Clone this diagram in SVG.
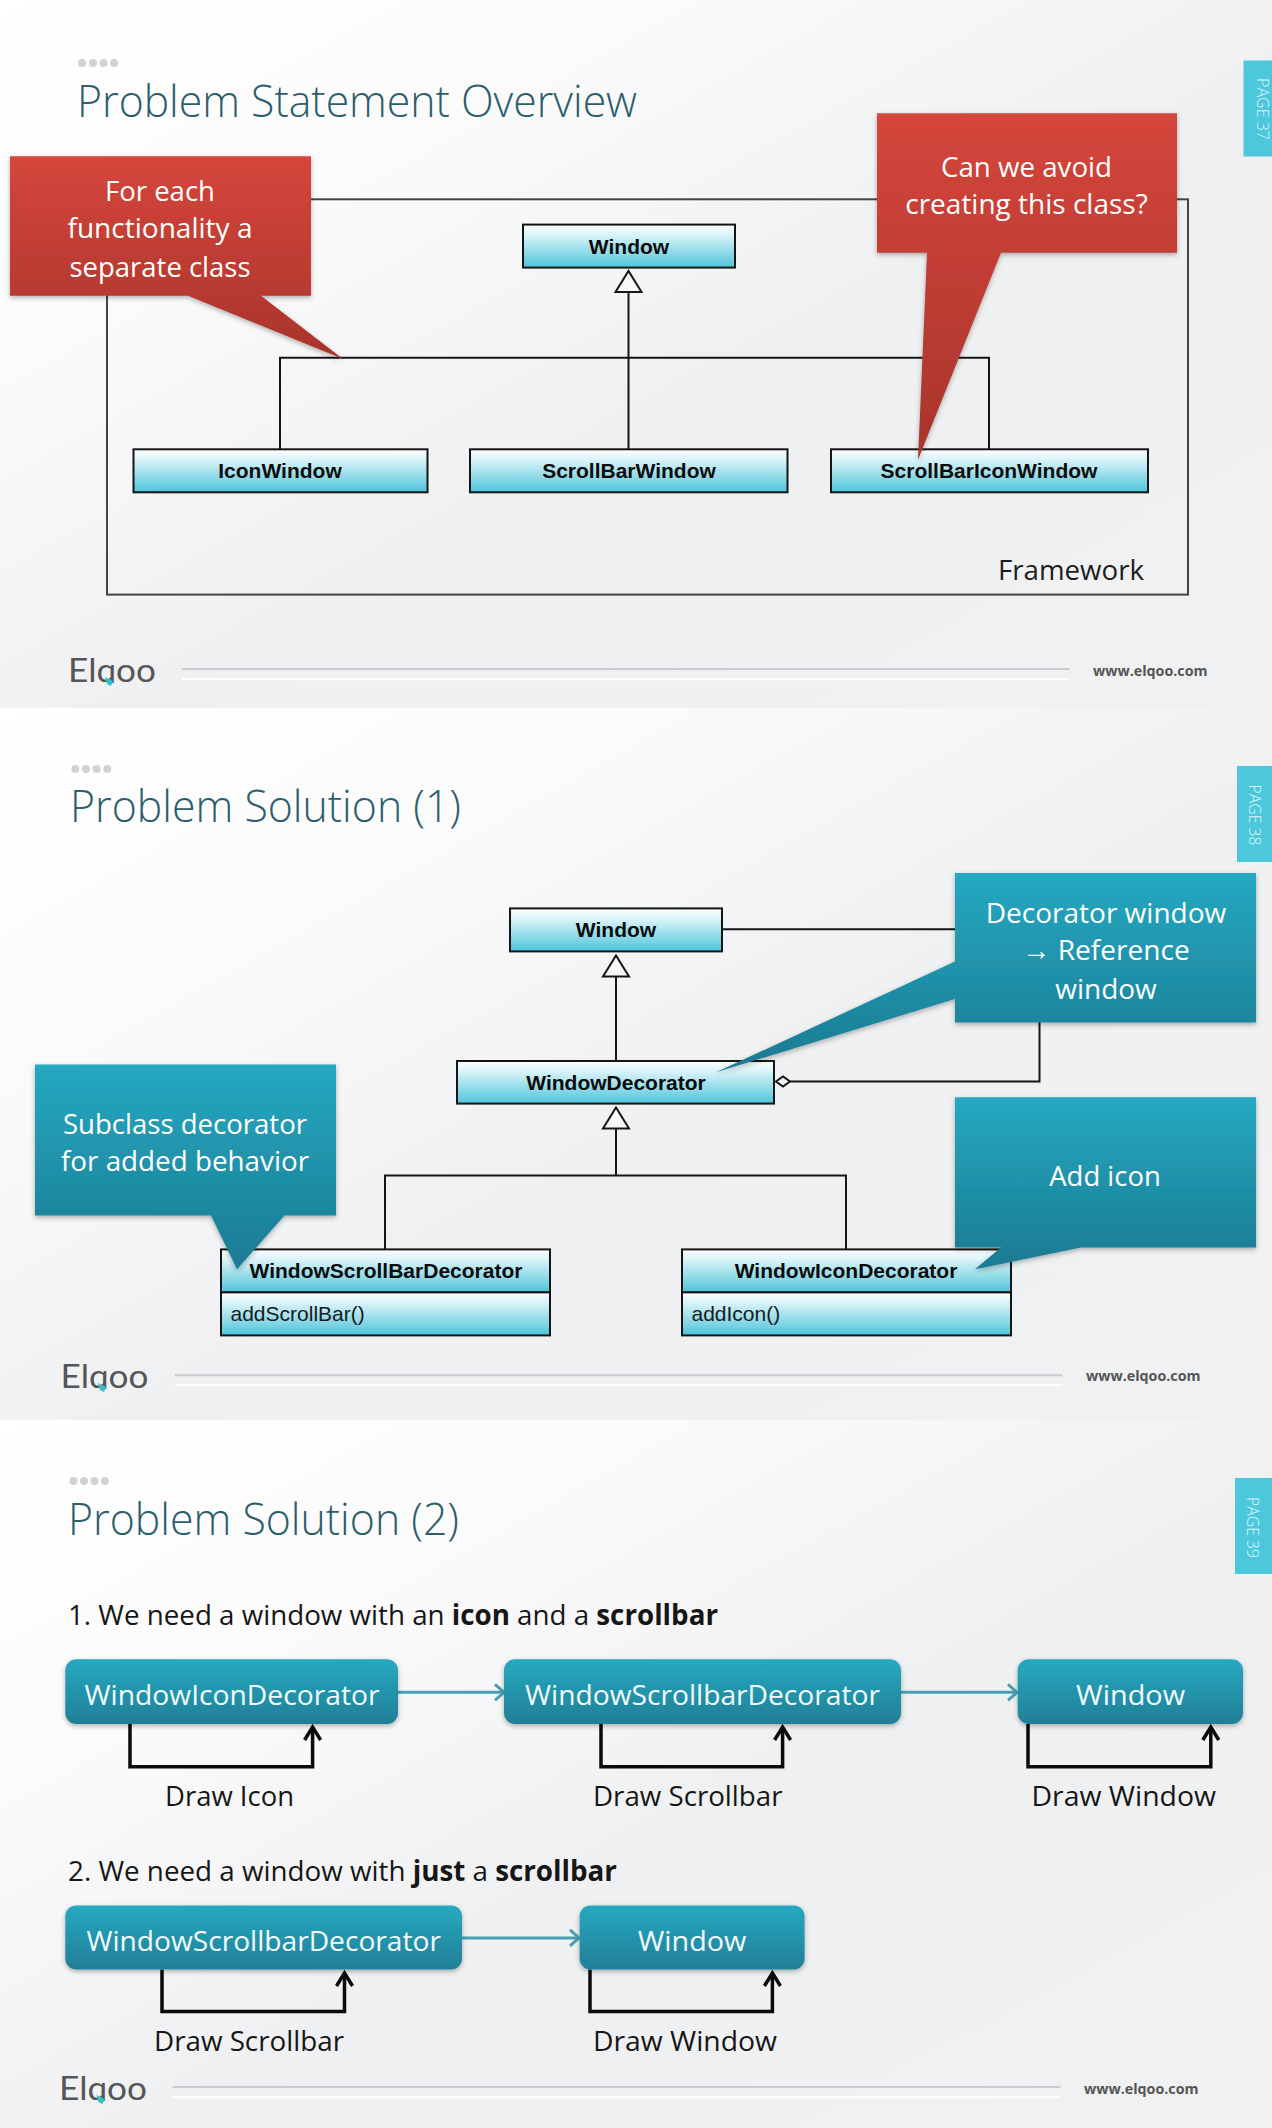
<svg xmlns="http://www.w3.org/2000/svg" width="1272" height="2128" viewBox="0 0 1272 2128">
<style>
text{font-family:"Open Sans","Noto Sans","Liberation Sans",sans-serif}
.title{font-size:44px;font-weight:300;fill:#2c5e6b}
.dot{fill:#d0d3d5}
.tab{fill:#4cc7dc}
.page{font-size:17px;font-weight:300;fill:#dff6fa}
.logo{font-family:Lato,"Open Sans",sans-serif;font-size:33px;fill:#565656}
.rule{stroke:#c9cbce;stroke-width:2;fill:none}
.rule2{stroke:#fff;stroke-width:2;fill:none}
.www{font-size:15px;font-weight:700;fill:#555}
.tick{fill:#35c0c8}
.cls{fill:url(#cg);stroke:#151515;stroke-width:2}
.cn{font-family:"Liberation Sans",Arial,sans-serif;font-size:21px;font-weight:700;fill:#0c0c0c;text-anchor:middle}
.cm{font-family:"Liberation Sans",Arial,sans-serif;font-size:21px;fill:#1a1a1a}
.wire{stroke:#151515;stroke-width:2;fill:none}
.frame{stroke:#444;stroke-width:2;fill:none}
.ct{font-size:28px;fill:#fff;text-anchor:middle}
.red{fill:url(#rg);filter:url(#sh)}
.teal{fill:url(#tg);filter:url(#sh)}
.pill{fill:url(#pg);filter:url(#sh)}
.pt{font-size:28px;fill:#f2fbfc;text-anchor:middle}
.blk{font-size:28px;fill:#161616}
.blk tspan{font-weight:700}
.flow{stroke:#4aa0b2;stroke-width:3;fill:none;marker-end:url(#ta)}
.loop{stroke:#0a0a0a;stroke-width:3.5;fill:none;marker-end:url(#ba)}
.gen{marker-end:url(#tri)}
.agg{marker-end:url(#dia)}
</style>
<defs>
<linearGradient id="bg" x1="0" y1="0" x2="1" y2="1"><stop offset="0" stop-color="#fff"/><stop offset=".25" stop-color="#fbfbfc"/><stop offset=".55" stop-color="#eff0f2"/><stop offset="1" stop-color="#eff1f3"/></linearGradient>
<linearGradient id="cg" x1="0" y1="0" x2="0" y2="1"><stop offset="0" stop-color="#fff"/><stop offset=".25" stop-color="#d8f3f8"/><stop offset="1" stop-color="#4ec4da"/></linearGradient>
<linearGradient id="rg" x1="0" y1="0" x2="0" y2="1"><stop offset="0" stop-color="#d5463c"/><stop offset="1" stop-color="#a8342b"/></linearGradient>
<linearGradient id="tg" x1="0" y1="0" x2="0" y2="1"><stop offset="0" stop-color="#25a9c1"/><stop offset="1" stop-color="#1a7a92"/></linearGradient>
<linearGradient id="pg" x1="0" y1="0" x2="0" y2="1"><stop offset="0" stop-color="#27a9c1"/><stop offset="1" stop-color="#1f7f97"/></linearGradient>
<filter id="sh" x="-5%" y="-5%" width="110%" height="115%"><feDropShadow dx="0" dy="2" stdDeviation="2.5" flood-color="#000" flood-opacity=".3"/></filter>
<marker id="tri" markerUnits="userSpaceOnUse" markerWidth="24" markerHeight="30" refX="1" refY="15" orient="auto" viewBox="0 0 24 30"><polygon points="1,2 1,28 22,15" fill="#f7f8f9" stroke="#151515" stroke-width="2"/></marker>
<marker id="dia" markerUnits="userSpaceOnUse" markerWidth="18" markerHeight="14" refX="1" refY="7" orient="auto" viewBox="0 0 18 14"><polygon points="1,7 8,2 15,7 8,12" fill="#f7f8f9" stroke="#151515" stroke-width="2"/></marker>
<marker id="ta" markerUnits="userSpaceOnUse" markerWidth="18" markerHeight="20" refX="14" refY="10" orient="auto" viewBox="0 0 18 20"><path d="M5,2 L14,10 L5,18" fill="none" stroke="#4aa0b2" stroke-width="3"/></marker>
<marker id="ba" markerUnits="userSpaceOnUse" markerWidth="22" markerHeight="22" refX="17" refY="11" orient="auto" viewBox="0 0 22 22"><path d="M4,3 L17,11 L4,19" fill="none" stroke="#0a0a0a" stroke-width="3.5"/></marker>
<clipPath id="lc1"><rect x="60" y="640" width="110" height="43"/></clipPath>
<clipPath id="lc2"><rect x="52" y="1345" width="110" height="44"/></clipPath>
<clipPath id="lc3"><rect x="50" y="2056" width="110" height="45"/></clipPath>
</defs>

<g id="backgrounds">
<rect x="0" y="0" width="1272" height="708" fill="url(#bg)"/>
<rect x="0" y="708" width="1272" height="712" fill="url(#bg)"/>
<rect x="0" y="1420" width="1272" height="708" fill="url(#bg)"/>
</g>

<g id="slide-chrome">
<g class="dot"><circle cx="82" cy="63" r="4"/><circle cx="93" cy="63" r="4"/><circle cx="103.500" cy="63" r="4"/><circle cx="114" cy="63" r="4"/>
<circle cx="75.300" cy="769" r="4"/><circle cx="86" cy="769" r="4"/><circle cx="96.700" cy="769" r="4"/><circle cx="107.300" cy="769" r="4"/>
<circle cx="73.500" cy="1481" r="4"/><circle cx="84" cy="1481" r="4"/><circle cx="94.500" cy="1481" r="4"/><circle cx="105" cy="1481" r="4"/></g>
<text class="title" x="77" y="116.500" textLength="560" lengthAdjust="spacingAndGlyphs">Problem Statement Overview</text>
<text class="title" x="70" y="822" textLength="391" lengthAdjust="spacingAndGlyphs">Problem Solution (1)</text>
<text class="title" x="68" y="1535" textLength="391" lengthAdjust="spacingAndGlyphs">Problem Solution (2)</text>
<rect class="tab" x="1243.500" y="60.500" width="28.500" height="96"/>
<rect class="tab" x="1237" y="766" width="35" height="96"/>
<rect class="tab" x="1235" y="1478" width="37" height="96"/>
<text class="page" transform="translate(1256.500 78) rotate(90)" textLength="62" lengthAdjust="spacingAndGlyphs">PAGE 37</text>
<text class="page" transform="translate(1249 784.500) rotate(90)" textLength="61" lengthAdjust="spacingAndGlyphs">PAGE 38</text>
<text class="page" transform="translate(1247 1497) rotate(90)" textLength="61" lengthAdjust="spacingAndGlyphs">PAGE 39</text>
<text class="logo" x="68" y="681.500" textLength="88" lengthAdjust="spacingAndGlyphs" clip-path="url(#lc1)">Elqoo</text>
<text class="logo" x="60.500" y="1388" textLength="88" lengthAdjust="spacingAndGlyphs" clip-path="url(#lc2)">Elqoo</text>
<text class="logo" x="59" y="2099.500" textLength="88" lengthAdjust="spacingAndGlyphs" clip-path="url(#lc3)">Elqoo</text>
<path class="tick" d="M105,677 L113,681 L111,686 L107,684 Z"/>
<path class="tick" d="M98,1383 L106,1387 L104,1392 L100,1390 Z"/>
<path class="tick" d="M96.500,2095 L104.500,2099 L102.500,2104 L98.500,2102 Z"/>
<path class="rule" d="M182,669H1069.500M175,1375.300H1062.500M172.500,2087H1060.500"/>
<path class="rule2" d="M182,679.300H1069.500M175,1385H1062.500M172.500,2097.300H1060.500"/>
<text class="www" x="1093" y="675.500" textLength="114.500" lengthAdjust="spacingAndGlyphs">www.elqoo.com</text>
<text class="www" x="1086" y="1381" textLength="114.500" lengthAdjust="spacingAndGlyphs">www.elqoo.com</text>
<text class="www" x="1084" y="2093.500" textLength="114.500" lengthAdjust="spacingAndGlyphs">www.elqoo.com</text>
</g>

<g id="framework">
<rect class="frame" x="107" y="199.300" width="1081" height="395.300"/>
<text x="998" y="579.500" font-size="28" fill="#1d1d1d" textLength="146" lengthAdjust="spacingAndGlyphs">Framework</text>
</g>

<g id="connectors">
<path class="wire gen" d="M628.500,449 V292"/>
<path class="wire" d="M280,449 V357.800 H989 V449"/>
<path class="wire gen" d="M616,1061 V976.500"/>
<path class="wire gen" d="M616,1176 V1128.500"/>
<path class="wire" d="M385,1249 V1175.600 H846 V1249"/>
<path class="wire" d="M722,929.200 H955"/>
<path class="wire agg" d="M1039.500,1022 V1081.500 H790"/>
<path class="flow" d="M398,1692.300 H504"/>
<path class="flow" d="M901,1692.300 H1017"/>
<path class="flow" d="M462,1937.900 H579"/>
<path class="loop" d="M130,1724 V1766.800 H312.600 V1727"/>
<path class="loop" d="M601,1724 V1766.800 H782.600 V1727"/>
<path class="loop" d="M1028,1724 V1766.800 H1210.800 V1727"/>
<path class="loop" d="M162,1969.500 V2011.500 H344.500 V1973"/>
<path class="loop" d="M590,1969.500 V2011.500 H772.400 V1973"/>
</g>

<g id="n-window-1"><rect class="cls" x="523" y="224.600" width="212" height="43"/><text class="cn" x="629" y="253.500">Window</text></g>
<g id="n-iconwindow"><rect class="cls" x="133.500" y="449.300" width="294" height="43"/><text class="cn" x="280" y="477.800">IconWindow</text></g>
<g id="n-scrollbarwindow"><rect class="cls" x="470" y="449.300" width="317.500" height="43"/><text class="cn" x="629" y="477.800">ScrollBarWindow</text></g>
<g id="n-scrollbariconwindow"><rect class="cls" x="831" y="449.300" width="317" height="43"/><text class="cn" x="989" y="477.800">ScrollBarIconWindow</text></g>

<g id="n-window-2"><rect class="cls" x="510" y="908.400" width="212" height="43"/><text class="cn" x="616" y="937.400">Window</text></g>
<g id="n-windowdecorator"><rect class="cls" x="457" y="1061" width="317" height="42.600"/><text class="cn" x="616" y="1089.500">WindowDecorator</text></g>
<g id="n-windowscrollbardecorator"><rect class="cls" x="221" y="1249.400" width="329" height="43"/><rect class="cls" x="221" y="1292.400" width="329" height="43"/><text class="cn" x="386" y="1278.400">WindowScrollBarDecorator</text><text class="cm" x="230.500" y="1321.400">addScrollBar()</text></g>
<g id="n-windowicondecorator"><rect class="cls" x="682" y="1249.400" width="329" height="43"/><rect class="cls" x="682" y="1292.400" width="329" height="43"/><text class="cn" x="846" y="1278.400">WindowIconDecorator</text><text class="cm" x="691.500" y="1321.400">addIcon()</text></g>

<g id="c-each"><path class="red" d="M10,156.200 H311 V295.700 H261 L343,359 L188,295.700 H10 Z"/>
<text class="ct" x="160" y="200.500" textLength="110" lengthAdjust="spacingAndGlyphs">For each</text>
<text class="ct" x="160" y="237.800" textLength="185" lengthAdjust="spacingAndGlyphs">functionality a</text>
<text class="ct" x="160" y="276.500" textLength="181" lengthAdjust="spacingAndGlyphs">separate class</text></g>
<g id="c-avoid"><path class="red" d="M877,113.200 H1177 V252.700 H1001 L918,459.700 L927,252.700 H877 Z"/>
<text class="ct" x="1026.500" y="176.500" textLength="171" lengthAdjust="spacingAndGlyphs">Can we avoid</text>
<text class="ct" x="1026.500" y="213.800" textLength="242.500" lengthAdjust="spacingAndGlyphs">creating this class?</text></g>

<g id="c-decorator"><path class="teal" d="M955,873 H1256 V1022.500 H955 V999 L716,1072.300 L955,961.400 Z"/>
<text class="ct" x="1106" y="922.800" textLength="240.500" lengthAdjust="spacingAndGlyphs">Decorator window</text>
<text class="ct" x="1106" y="960.300" textLength="167.500" lengthAdjust="spacingAndGlyphs">→ Reference</text>
<text class="ct" x="1106" y="999" textLength="101.500" lengthAdjust="spacingAndGlyphs">window</text></g>
<g id="c-icon"><path class="teal" d="M955,1097.200 H1256 V1247.600 H1081 L975,1269.300 L1001,1247.600 H955 Z"/>
<text class="ct" x="1105" y="1185.500" textLength="111.500" lengthAdjust="spacingAndGlyphs">Add icon</text></g>
<g id="c-subclass"><path class="teal" d="M35,1064.600 H336 V1215.400 H284.500 L237,1269.300 L211,1215.400 H35 Z"/>
<text class="ct" x="185" y="1133.800" textLength="244" lengthAdjust="spacingAndGlyphs">Subclass decorator</text>
<text class="ct" x="185" y="1171" textLength="248" lengthAdjust="spacingAndGlyphs">for added behavior</text></g>

<g id="statements">
<text class="blk" x="68" y="1624.500" textLength="650" lengthAdjust="spacingAndGlyphs">1. We need a window with an <tspan>icon</tspan> and a <tspan>scrollbar</tspan></text>
<text class="blk" x="68" y="1880.500" textLength="549" lengthAdjust="spacingAndGlyphs">2. We need a window with <tspan>just</tspan> a <tspan>scrollbar</tspan></text>
</g>

<g id="p-icon-dec"><rect class="pill" x="65.300" y="1659.300" width="332.700" height="64.600" rx="11"/><text class="pt" x="232" y="1705.400" textLength="295" lengthAdjust="spacingAndGlyphs">WindowIconDecorator</text></g>
<g id="p-scroll-dec"><rect class="pill" x="504" y="1659.300" width="397" height="64.600" rx="11"/><text class="pt" x="702.500" y="1705.400" textLength="355" lengthAdjust="spacingAndGlyphs">WindowScrollbarDecorator</text></g>
<g id="p-window"><rect class="pill" x="1017.700" y="1659.300" width="225.300" height="64.600" rx="11"/><text class="pt" x="1130.500" y="1705.400" textLength="109" lengthAdjust="spacingAndGlyphs">Window</text></g>
<g id="p-scroll-dec-2"><rect class="pill" x="65.300" y="1905.400" width="396.700" height="64.100" rx="11"/><text class="pt" x="263.700" y="1950.500" textLength="354.500" lengthAdjust="spacingAndGlyphs">WindowScrollbarDecorator</text></g>
<g id="p-window-2"><rect class="pill" x="579.600" y="1905.400" width="225" height="64.100" rx="11"/><text class="pt" x="692" y="1950.500" textLength="108.500" lengthAdjust="spacingAndGlyphs">Window</text></g>

<g id="loop-labels" class="blk">
<text class="blk" x="165" y="1806" textLength="129" lengthAdjust="spacingAndGlyphs">Draw Icon</text>
<text class="blk" x="593" y="1806" textLength="189.500" lengthAdjust="spacingAndGlyphs">Draw Scrollbar</text>
<text class="blk" x="1031.500" y="1806" textLength="184.500" lengthAdjust="spacingAndGlyphs">Draw Window</text>
<text class="blk" x="154" y="2050.800" textLength="190" lengthAdjust="spacingAndGlyphs">Draw Scrollbar</text>
<text class="blk" x="593" y="2050.800" textLength="184" lengthAdjust="spacingAndGlyphs">Draw Window</text>
</g>
</svg>
